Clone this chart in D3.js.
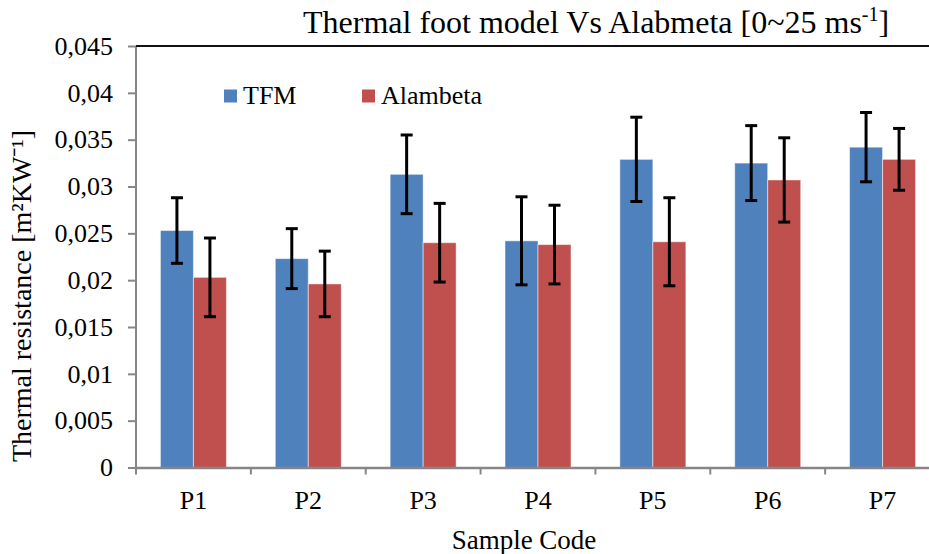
<!DOCTYPE html>
<html><head><meta charset="utf-8">
<script src="https://cdn.jsdelivr.net/npm/d3@7"></script>
<style>body{margin:0;background:#fff}svg{display:block}svg text{font-family:"Liberation Serif","Times New Roman",serif !important;fill:#000}</style>
</head><body><svg id="c" width="929" height="554"></svg>
<script>
const categories = ["P1","P2","P3","P4","P5","P6","P7"];
const seriesNames = ["TFM","Alambeta"];
const tfmValues = [0.0253,0.0223,0.0313,0.0242,0.0329,0.0325,0.0342];
const tfmErrors = [0.0035,0.0032,0.0042,0.0047,0.0045,0.0040,0.0037];
const alaValues = [0.0203,0.0196,0.0240,0.0238,0.0241,0.0307,0.0329];
const alaErrors = [0.0042,0.0035,0.0042,0.0042,0.0047,0.0045,0.0033];
const yTicks = [0,0.005,0.01,0.015,0.02,0.025,0.03,0.035,0.04,0.045];
const colors = ["#4F81BD","#C0504D"];

const FS = 26;
const svg = d3.select("#c");
const L=136, R=940, T=46, B=467.5;
const x = d3.scaleBand().domain(categories).range([L,R]).paddingInner(0).paddingOuter(0);
const bw = x.bandwidth();
const xs = d3.scaleBand().domain(seriesNames).range([0,bw]).paddingInner(0).paddingOuter(0.74);
const y = d3.scaleLinear().domain([0,0.045]).range([B,T]);
const fmt = v => v===0 ? "0" : d3.format(".3~f")(v).replace(".",",");

const data = [];
categories.forEach((c,i)=>{
  data.push({c, s:"TFM", v:tfmValues[i], e:tfmErrors[i], col:colors[0]});
  data.push({c, s:"Alambeta", v:alaValues[i], e:alaErrors[i], col:colors[1]});
});

// bars
svg.append("g").selectAll("rect").data(data).join("rect")
  .attr("x", d=>x(d.c)+xs(d.s)).attr("width", xs.bandwidth())
  .attr("y", d=>y(d.v)).attr("height", d=>B-y(d.v))
  .attr("fill", d=>d.col).attr("stroke","rgba(255,255,255,0.5)").attr("stroke-width",1);

// error bars
const eg = svg.append("g").attr("stroke","#000").attr("stroke-width",3);
data.forEach(d=>{
  const cx = x(d.c)+xs(d.s)+xs.bandwidth()/2;
  eg.append("line").attr("x1",cx).attr("x2",cx).attr("y1",y(d.v+d.e)).attr("y2",y(d.v-d.e));
  [d.v+d.e,d.v-d.e].forEach(v=>eg.append("line").attr("x1",cx-6).attr("x2",cx+6).attr("y1",y(v)).attr("y2",y(v)));
});

// y axis
const ya = svg.append("g").attr("transform",`translate(${L},0)`)
  .call(d3.axisLeft(y).tickValues(yTicks).tickFormat(fmt).tickSize(8).tickPadding(15));
ya.attr("font-size",FS).attr("font-family",null);
ya.select(".domain").attr("stroke","#868686").attr("stroke-width",2).attr("d",`M0,${B+4}V${T}`);
ya.selectAll(".tick line").attr("stroke","#868686").attr("stroke-width",2);

// x axis
const xa = svg.append("g").attr("transform",`translate(0,${B})`)
  .call(d3.axisBottom(x).tickSize(0).tickPadding(23));
xa.attr("font-size",FS).attr("font-family",null);
xa.select(".domain").attr("stroke","#868686").attr("stroke-width",2.5);
svg.append("g").selectAll("line").data(categories).join("line")
  .attr("x1",d=>x(d)).attr("x2",d=>x(d)).attr("y1",B).attr("y2",B+7)
  .attr("stroke","#868686").attr("stroke-width",2);

// top border
svg.append("line").attr("x1",L).attr("x2",929).attr("y1",T).attr("y2",T).attr("stroke","#111").attr("stroke-width",2);

// legend
const lg = svg.append("g");
const legX = [224, 362];
seriesNames.forEach((s,i)=>{
  lg.append("rect").attr("x",legX[i]).attr("y",89.5).attr("width",13).attr("height",13).attr("fill",colors[i]);
  lg.append("text").attr("x",legX[i]+19).attr("y",104).attr("font-size",FS).text(s);
});

// title
const t = svg.append("text").attr("x",303).attr("y",33).attr("font-size",32);
t.append("tspan").text("Thermal foot model Vs Alabmeta [0~25 ms");
t.append("tspan").attr("dy",-12).attr("font-size",20).text("-1");
t.append("tspan").attr("dy",12).text("]");

// axis titles
svg.append("text").attr("x",524).attr("y",549).attr("text-anchor","middle").attr("font-size",27).text("Sample Code");
const yt = svg.append("text").attr("transform","translate(31,296) rotate(-90)").attr("text-anchor","middle").attr("font-size",28);
yt.text("Thermal resistance [m²KW⁻¹]");
</script></body></html>
